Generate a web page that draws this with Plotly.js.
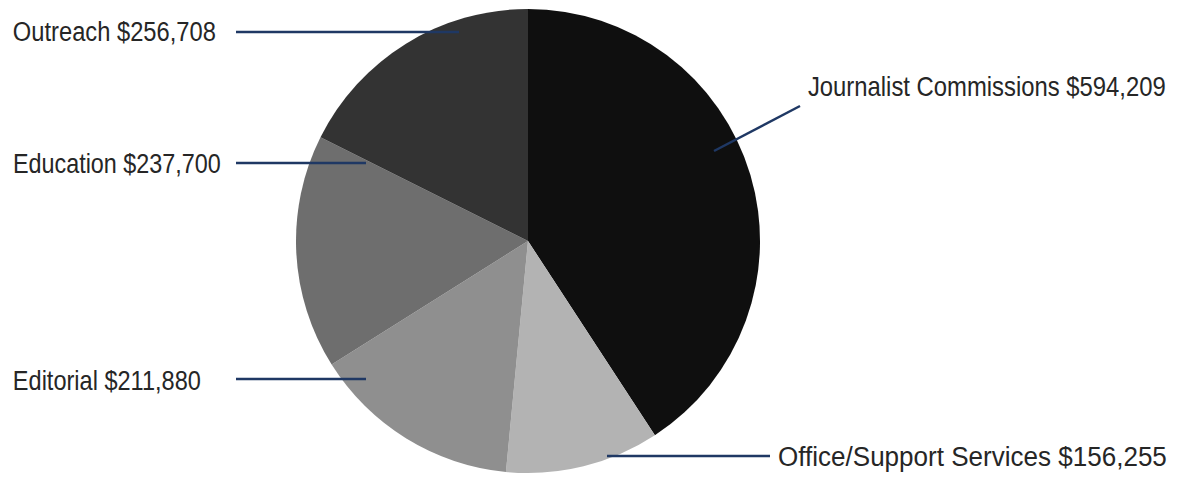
<!DOCTYPE html>
<html>
<head>
<meta charset="utf-8">
<script src="https://cdn.plot.ly/plotly-3.0.1.min.js"></script>
<style>html,body{margin:0;padding:0;background:#fff;}#chart{width:1183px;height:477px;}</style>
</head>
<body>
<div id="chart"></div>
<script>
const categories = ["Journalist Commissions", "Office/Support Services", "Editorial", "Education", "Outreach"];
const amounts = [594209, 156255, 211880, 237700, 256708];
const sliceColors = ["#0f0f0f", "#b3b3b3", "#8f8f8f", "#6e6e6e", "#333333"];

const W = 1183, H = 477;
const cx = 528, cy = 241, R = 232;
const px = x => x / W;
const py = y => 1 - y / H;

const fmt = v => "$" + v.toLocaleString("en-US");
const labelText = categories.map((c, i) => c + " " + fmt(amounts[i]));

// label layout in pixels: text left edge, text width (narrow face), centre y, leader line
const labelLayout = [
  {left: 807, width: 358, y: 87, line: [714, 151, 800, 106]},
  {left: 777, width: 389, y: 456, line: [607, 456, 770, 456]},
  {left: 12, width: 188, y: 380, line: [236, 379, 366, 379]},
  {left: 12, width: 208, y: 163, line: [236, 163, 366, 163]},
  {left: 12, width: 203, y: 31, line: [236, 32, 459, 32]}
];

const font = {family: "'Liberation Sans Narrow', 'Arial Narrow', 'Liberation Sans', Arial, sans-serif", size: 28, color: "#262626"};

const annotations = labelLayout.map((l, i) => ({
  xref: "paper", yref: "paper", x: px(l.left), y: py(l.y),
  xanchor: "left", yanchor: "middle", showarrow: false,
  borderpad: 0, text: labelText[i], font: font
}));
const shapes = labelLayout.map(l => ({
  type: "line", xref: "paper", yref: "paper",
  x0: px(l.line[0]), y0: py(l.line[1]), x1: px(l.line[2]), y1: py(l.line[3]),
  line: {color: "#1f3864", width: 2.5}, layer: "above"
}));

const trace = {
  type: "pie",
  labels: categories,
  values: amounts,
  sort: false,
  direction: "clockwise",
  rotation: 0,
  textinfo: "none",
  hoverinfo: "label+value",
  marker: {colors: sliceColors, line: {width: 0}},
  domain: {x: [px(cx - R), px(cx + R)], y: [py(cy + R), py(cy - R)]}
};

Plotly.newPlot("chart", [trace], {
  width: W, height: H,
  margin: {l: 0, r: 0, t: 0, b: 0},
  showlegend: false,
  paper_bgcolor: "#ffffff",
  annotations: annotations,
  shapes: shapes
}, {displayModeBar: false, staticPlot: true}).then(gd => {
  // condense each label horizontally (anchored at its left edge) to mimic the narrow typeface
  const groups = gd.querySelectorAll("g.annotation");
  groups.forEach((g, i) => {
    const l = labelLayout[i];
    const t = g.querySelector(".annotation-text");
    if (!l || !t) return;
    const natural = t.getBBox().width;
    if (!natural) return;
    const s = l.width / natural;
    g.setAttribute("transform", `translate(${l.left},0) scale(${s},1) translate(${-l.left},0)`);
  });
});
</script>
</body>
</html>
